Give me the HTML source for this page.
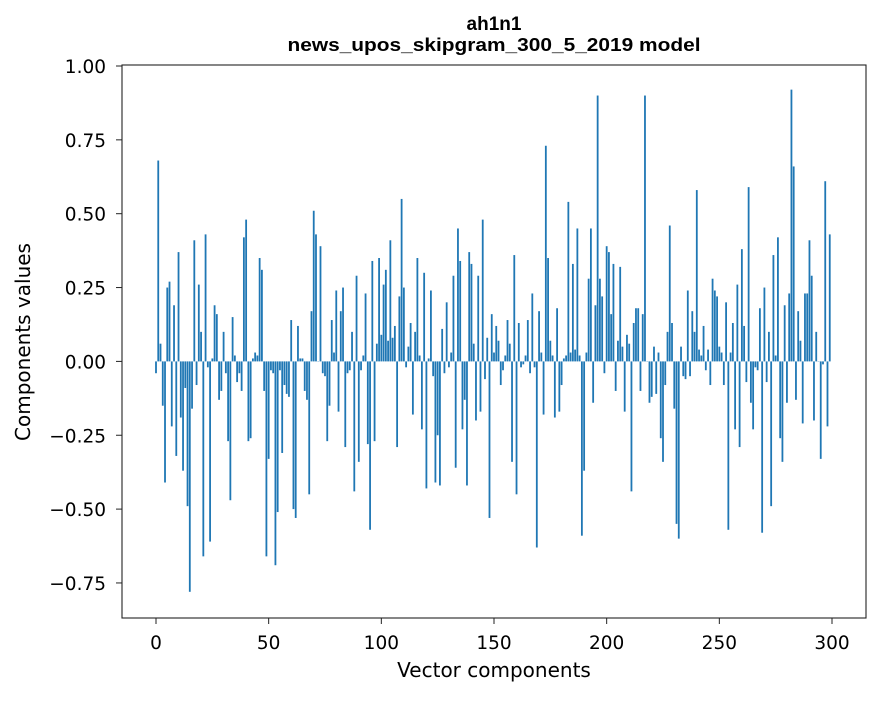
<!DOCTYPE html>
<html><head><meta charset="utf-8"><style>
body{margin:0;background:#fff;}
svg text{font-family:"DejaVu Sans","Liberation Sans",sans-serif;fill:#000;}
</style></head><body>
<svg id="chart" width="880" height="696" viewBox="0 0 880 696" xmlns="http://www.w3.org/2000/svg">
<rect width="880" height="696" fill="#fff"/>
<text x="494" y="30" text-anchor="middle" font-size="19" font-weight="bold" style="font-family:'Liberation Sans',sans-serif">ah1n1</text>
<text x="494" y="51" text-anchor="middle" font-size="18" font-weight="bold" style="font-family:'Liberation Sans',sans-serif" textLength="413" lengthAdjust="spacingAndGlyphs">news_upos_skipgram_300_5_2019 model</text>
<g id="bars"></g>
<g id="axes"></g>
<rect x="122" y="65" width="744" height="553" fill="none" stroke="#222" stroke-width="1.1"/>
<text x="494" y="677" text-anchor="middle" font-size="20">Vector components</text>
<text transform="translate(30,342) rotate(-90)" text-anchor="middle" font-size="20">Components values</text>
</svg>
<script>
const values = [-0.04,0.68,0.06,-0.15,-0.41,0.25,0.27,-0.22,0.19,-0.32,0.37,-0.19,-0.37,-0.09,-0.49,-0.78,-0.16,0.41,-0.08,0.26,0.10,-0.66,0.43,-0.02,-0.61,0.01,0.19,0.16,-0.13,-0.10,0.10,-0.04,-0.27,-0.47,0.15,0.02,-0.07,-0.04,-0.10,0.42,0.48,-0.27,-0.26,0.01,0.03,0.02,0.35,0.31,-0.10,-0.66,-0.33,-0.03,-0.04,-0.69,-0.51,-0.03,-0.31,-0.08,-0.11,-0.12,0.14,-0.50,-0.53,0.12,0.01,0.01,-0.10,-0.13,-0.45,0.17,0.51,0.43,0.00,0.39,-0.04,-0.05,-0.27,-0.15,0.14,0.03,0.24,-0.17,0.17,0.25,-0.29,-0.04,-0.03,0.10,-0.44,0.29,-0.34,-0.03,0.02,0.23,-0.28,-0.57,0.34,-0.27,0.06,0.35,0.09,0.26,0.31,0.07,0.41,0.08,0.12,-0.29,0.22,0.55,0.25,-0.02,0.05,0.13,-0.18,0.10,0.35,0.02,-0.23,0.30,-0.43,0.01,0.24,-0.05,-0.41,-0.25,-0.42,0.11,-0.04,0.20,-0.02,0.03,0.29,-0.36,0.45,0.34,-0.23,-0.13,-0.42,0.37,0.33,0.06,-0.20,0.29,-0.17,0.48,-0.06,0.08,-0.53,0.16,0.03,0.12,0.07,-0.08,-0.03,0.02,0.14,0.06,-0.34,0.36,-0.45,0.13,-0.02,-0.01,0.02,0.14,-0.04,0.23,-0.02,-0.63,0.17,0.03,-0.18,0.73,0.35,0.07,0.02,-0.19,0.18,-0.17,-0.08,0.01,0.02,0.54,0.03,0.33,0.04,0.45,0.02,-0.59,-0.37,0.03,0.28,0.45,-0.14,0.19,0.90,0.28,0.22,-0.04,0.39,0.37,0.16,0.33,-0.10,0.07,0.32,0.05,-0.17,0.09,0.06,-0.44,0.13,0.18,0.18,-0.10,0.16,0.90,0.00,-0.14,-0.12,0.05,-0.11,0.03,-0.26,-0.34,-0.08,0.10,0.46,0.13,-0.16,-0.55,-0.60,0.05,-0.05,-0.06,0.24,-0.05,0.17,0.10,0.58,0.04,0.02,0.12,-0.03,0.04,-0.08,0.28,0.24,0.22,0.05,0.03,-0.08,0.20,-0.57,0.03,0.13,-0.23,0.26,-0.29,0.38,0.12,-0.07,0.59,-0.14,-0.23,-0.02,-0.03,0.18,-0.58,0.25,-0.07,0.10,-0.49,0.36,0.02,0.42,-0.26,-0.34,0.19,-0.14,0.23,0.92,0.66,-0.13,0.17,0.07,-0.21,0.23,0.23,0.41,0.29,-0.20,0.10,0.00,-0.33,-0.01,0.61,-0.22,0.43];
const xTicks = [0,50,100,150,200,250,300];
const yTicks = [-0.75,-0.50,-0.25,0.00,0.25,0.50,0.75,1.00];
const yTickLabels = ["\u22120.75","\u22120.50","\u22120.25","0.00","0.25","0.50","0.75","1.00"];
const NS="http://www.w3.org/2000/svg";
function xs(v){return 156+(v)*(832-156)/300;}
function ys(v){return 361.4-v*295.4;}
const bars=document.getElementById('bars');
const bw=(xs(1)-xs(0))*0.8;
values.forEach((v,i)=>{
  const r=document.createElementNS(NS,'rect');
  
  
  const y0=ys(0),y1=ys(v);
  r.setAttribute('x',(xs(i)-bw/2).toFixed(2));
  r.setAttribute('y',Math.min(y0,y1).toFixed(2));
  r.setAttribute('width',bw.toFixed(2));
  r.setAttribute('height',Math.max(Math.abs(y1-y0),0.3).toFixed(2));
  r.setAttribute('fill','#1f77b4');
  bars.appendChild(r);
});
const axes=document.getElementById('axes');
xTicks.forEach(t=>{
  const l=document.createElementNS(NS,'line');
  
  
  l.setAttribute('x1',xs(t));l.setAttribute('x2',xs(t));
  l.setAttribute('y1',618);l.setAttribute('y2',624);
  l.setAttribute('stroke','#222');
  axes.appendChild(l);
  const tx=document.createElementNS(NS,'text');
  
  
  tx.setAttribute('x',xs(t));tx.setAttribute('y',649);
  tx.setAttribute('text-anchor','middle');tx.setAttribute('font-size','18.5');
  tx.textContent=String(t);
  axes.appendChild(tx);
});
yTicks.forEach((t,i)=>{
  const l=document.createElementNS(NS,'line');
  
  
  l.setAttribute('x1',116);l.setAttribute('x2',122);
  l.setAttribute('y1',ys(t));l.setAttribute('y2',ys(t));
  l.setAttribute('stroke','#222');
  axes.appendChild(l);
  const tx=document.createElementNS(NS,'text');
  
  
  tx.setAttribute('x',106);tx.setAttribute('y',ys(t)+7);
  tx.setAttribute('text-anchor','end');tx.setAttribute('font-size','18.5');
  tx.textContent=yTickLabels[i];
  axes.appendChild(tx);
});
</script>
</body></html>
